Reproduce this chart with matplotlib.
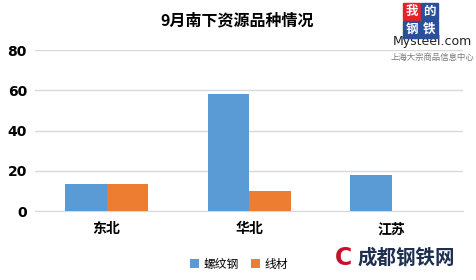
import numpy as np
import matplotlib.pyplot as plt
from matplotlib.patches import Rectangle

plt.rcParams['font.family'] = ['Noto Sans CJK SC', 'DejaVu Sans']

categories = ["东北", "华北", "江苏"]
series_names = ["螺纹钢", "线材"]
rebar = [13.5, 58, 18]
wire = [13.5, 10, 0]
yticks = [0, 20, 40, 60, 80]

colors = ["#5B9BD5", "#ED7D31"]

fig = plt.figure(figsize=(4.76, 2.80), dpi=100)
ax = fig.add_axes([0.074, 0.246, 0.899, 0.575])

x = np.arange(len(categories))
w = 0.29
ax.bar(x - w / 2, rebar, w, color=colors[0], label=series_names[0], zorder=3)
ax.bar(x + w / 2, wire, w, color=colors[1], label=series_names[1], zorder=3)

ax.set_xlim(-0.5, len(categories) - 0.5)
ax.set_ylim(0, 80)
ax.set_yticks(yticks)
ax.set_yticklabels([str(v) for v in yticks], fontsize=10, fontweight="bold",
                   family="DejaVu Sans")
ax.set_xticks(x)
ax.set_xticklabels(categories, fontsize=10, fontweight="bold")
ax.tick_params(axis="both", length=0)
ax.tick_params(axis="x", pad=8)
ax.tick_params(axis="y", pad=6)
ax.grid(axis="y", color="#D9D9D9", lw=1, zorder=0)
for s in ["top", "right", "left"]:
    ax.spines[s].set_visible(False)
ax.spines["bottom"].set_color("#D9D9D9")

fig.text(0.498, 0.928, "9月南下资源品种情况", ha="center", va="center",
         fontsize=11.5, fontweight="bold")

leg = fig.legend(loc="center", bbox_to_anchor=(0.502, 0.057), ncol=2, frameon=False,
                 fontsize=8.5, handlelength=0.8, handleheight=0.8,
                 columnspacing=1.0, handletextpad=0.4)

# mysteel logo (top right)
boxes = [("我", "#E8202A", 403, 3), ("的", "#2A4F9B", 421, 3),
         ("钢", "#2A4F9B", 403, 21), ("铁", "#2A4F9B", 421, 21)]
for ch, c, px, py in boxes:
    fig.patches.append(Rectangle((px / 476, 1 - (py + 17) / 280), 17 / 476, 17 / 280,
                                 transform=fig.transFigure, color=c, zorder=5))
    fig.text((px + 8.5) / 476, 1 - (py + 8.5) / 280, ch, ha="center", va="center",
             color="white", fontsize=9, fontweight="bold", zorder=6)
fig.text(0.908, 1 - 42 / 280, "Mysteel.com", ha="center", va="center",
         fontsize=9, color="#222222", family="DejaVu Sans")
fig.text(0.908, 1 - 57 / 280, "上海大宗商品信息中心", ha="center", va="center",
         fontsize=6, color="#777777", style="italic")

# watermark (bottom right)
fig.text(0.704, 1 - 258 / 280, "C", ha="left", va="center", fontsize=17,
         color="#C8102E", fontweight="bold", family="DejaVu Sans")
fig.text(0.853, 1 - 258 / 280, "成都钢铁网", ha="center", va="center",
         fontsize=14, color="#1F2F4F", fontweight="bold")

fig.savefig("out.png", dpi=100)
